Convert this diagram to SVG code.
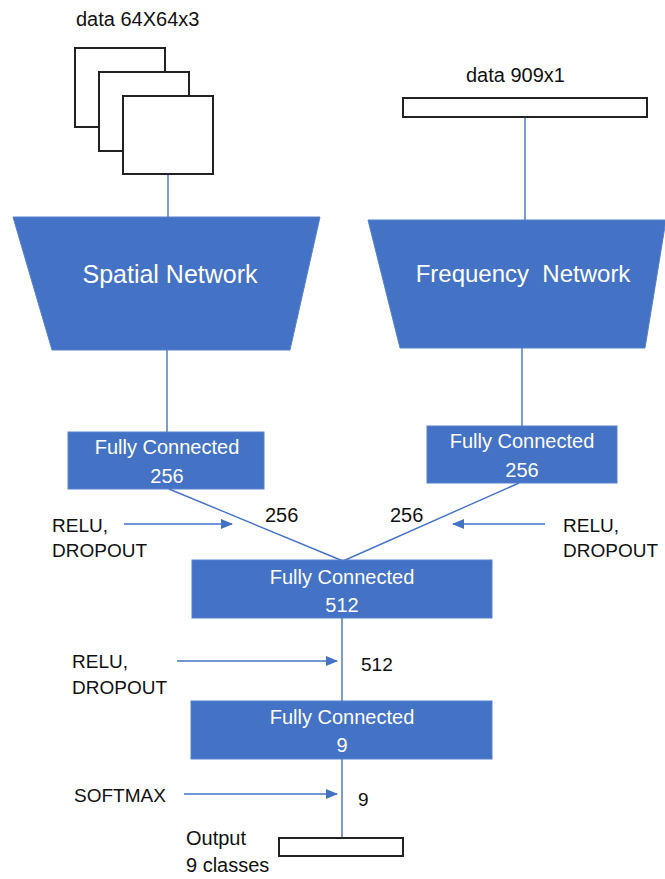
<svg xmlns="http://www.w3.org/2000/svg" width="665" height="879" viewBox="0 0 665 879">
<defs>
<style>
.t{font-family:"Liberation Sans",Arial,sans-serif;fill:#111;}
.w{font-family:"Liberation Sans",Arial,sans-serif;fill:#fff;text-anchor:middle;}
.blue{fill:#4472C4;stroke:#5580cc;stroke-width:1;}
.data{fill:#fff;stroke:#222;stroke-width:2;}
.ln{stroke:#4472C4;stroke-width:1.4;fill:none;}
.ar{stroke:#4472C4;stroke-width:1.4;fill:none;marker-end:url(#ah);}
</style>
<marker id="ah" viewBox="0 0 12 10" refX="11" refY="5" markerWidth="12" markerHeight="10" markerUnits="userSpaceOnUse" orient="auto">
<path d="M0,0 L12,5 L0,10 z" fill="#4472C4"/>
</marker>
</defs>
<rect width="665" height="879" fill="#fff"/>

<g id="connectors">
<line class="ln" x1="168" y1="174" x2="168" y2="217"/>
<line class="ln" x1="525" y1="117" x2="525" y2="220"/>
<line class="ln" x1="167" y1="350" x2="167" y2="432"/>
<line class="ln" x1="522" y1="348" x2="522" y2="426"/>
<line class="ln" x1="169" y1="489" x2="343" y2="561"/>
<line class="ln" x1="519" y1="483" x2="343" y2="561"/>
<line class="ln" x1="342" y1="618" x2="342" y2="701"/>
<line class="ln" x1="342" y1="759" x2="342" y2="838"/>
<line class="ar" x1="124" y1="524" x2="232" y2="524"/>
<line class="ar" x1="545" y1="524" x2="453" y2="524"/>
<line class="ar" x1="177" y1="661" x2="337" y2="661"/>
<line class="ar" x1="184" y1="794" x2="337" y2="794"/>
</g>

<g id="data-spatial">
<rect class="data" x="75" y="48" width="90" height="79"/>
<rect class="data" x="99" y="72" width="90" height="79"/>
<rect class="data" x="123" y="96" width="90" height="78"/>
<text class="t" x="76" y="26" font-size="20">data 64X64x3</text>
</g>

<g id="data-frequency">
<rect class="data" x="403" y="98" width="244" height="19"/>
<text class="t" x="466" y="82" font-size="20">data 909x1</text>
</g>

<g id="spatial-network">
<polygon class="blue" points="13,217 320,217 290,350 52,350"/>
<text class="w" x="170" y="283" font-size="25">Spatial Network</text>
</g>

<g id="frequency-network">
<polygon class="blue" points="368,220 666,220 645,348 400,348"/>
<text class="w" x="523" y="282" font-size="24" style="white-space:pre">Frequency  Network</text>
</g>

<g id="fc-256-left">
<rect class="blue" x="68" y="432" width="196" height="57"/>
<text class="w" x="167" y="454" font-size="20">Fully Connected</text>
<text class="w" x="167" y="483" font-size="20">256</text>
</g>

<g id="fc-256-right">
<rect class="blue" x="427" y="426" width="190" height="57"/>
<text class="w" x="522" y="448" font-size="20">Fully Connected</text>
<text class="w" x="522" y="477" font-size="20">256</text>
</g>

<g id="fc-512">
<rect class="blue" x="192" y="560" width="300" height="58"/>
<text class="w" x="342" y="584" font-size="20">Fully Connected</text>
<text class="w" x="342" y="612" font-size="20">512</text>
</g>

<g id="fc-9">
<rect class="blue" x="191" y="701" width="301" height="58"/>
<text class="w" x="342" y="724" font-size="20">Fully Connected</text>
<text class="w" x="342" y="752" font-size="20">9</text>
</g>

<g id="output">
<rect class="data" x="279" y="838" width="124" height="18"/>
<text class="t" x="186" y="845" font-size="20">Output</text>
<text class="t" x="186" y="872" font-size="20">9 classes</text>
</g>

<g id="labels">
<text class="t" x="265" y="522" font-size="20">256</text>
<text class="t" x="390" y="522" font-size="20">256</text>
<text class="t" x="52" y="532" font-size="19">RELU,</text>
<text class="t" x="52" y="557" font-size="19">DROPOUT</text>
<text class="t" x="563" y="532" font-size="19">RELU,</text>
<text class="t" x="563" y="557" font-size="19">DROPOUT</text>
<text class="t" x="72" y="668" font-size="19">RELU,</text>
<text class="t" x="72" y="694" font-size="19">DROPOUT</text>
<text class="t" x="361" y="671" font-size="19">512</text>
<text class="t" x="74" y="802" font-size="19">SOFTMAX</text>
<text class="t" x="358" y="806" font-size="19">9</text>
</g>
</svg>
